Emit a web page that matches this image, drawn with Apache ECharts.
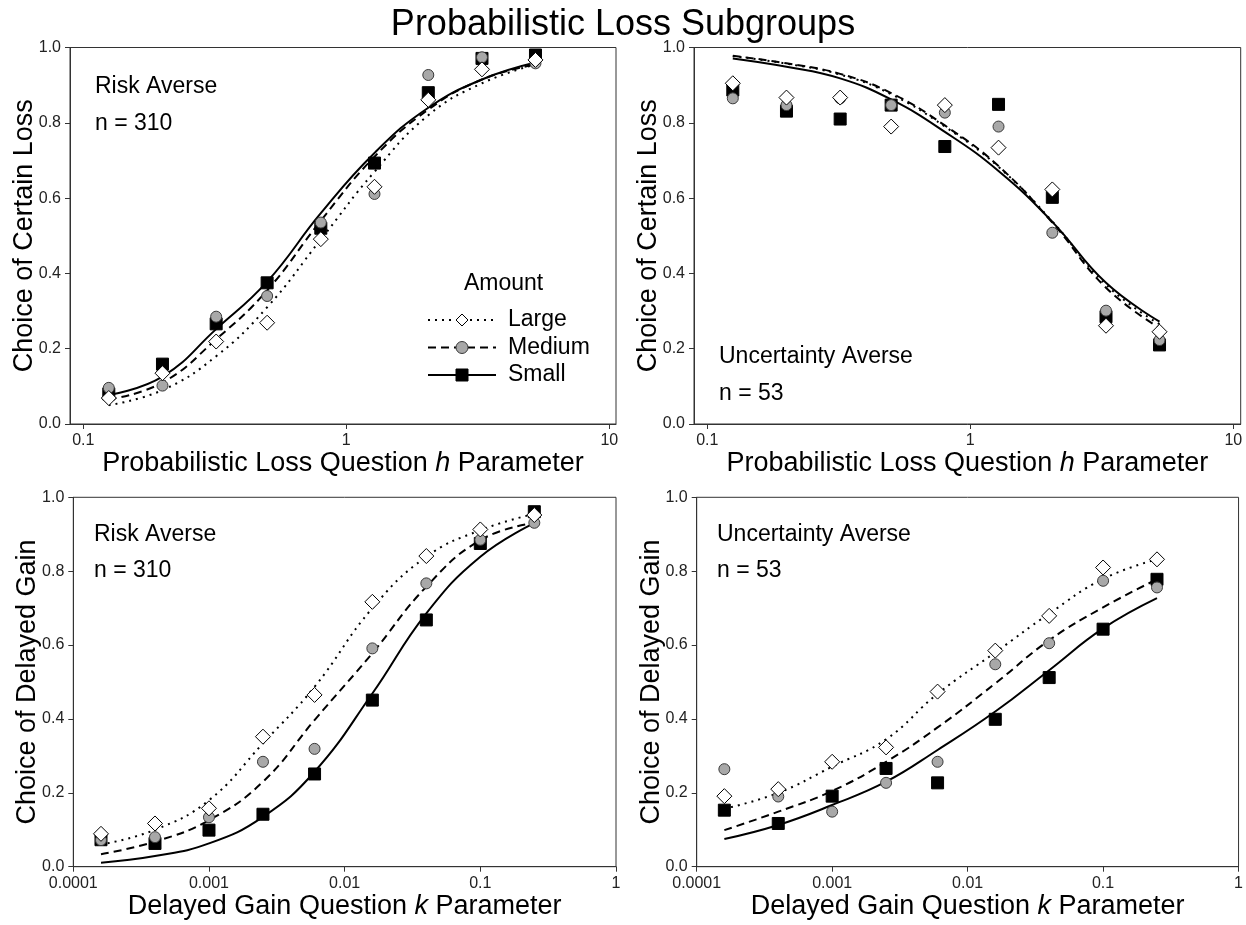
<!DOCTYPE html>
<html>
<head>
<meta charset="utf-8">
<title>Probabilistic Loss Subgroups</title>
<script src="https://cdn.jsdelivr.net/npm/echarts@6/dist/echarts.min.js"></script>
<style>
  html, body { margin: 0; padding: 0; background: #fff; }
  #chart { width: 1246px; height: 925px; }
</style>
</head>
<body>
<div id="chart"></div>
<script>
// Question parameters (x positions of the choice points)
const hValues = [0.125, 0.2, 0.32, 0.5, 0.8, 1.28, 2.05, 3.28, 5.24];
const kValues = [0.00016, 0.0004, 0.001, 0.0025, 0.006, 0.016, 0.04, 0.1, 0.25];

// Tick labels
const hTicks = [0.1, 1, 10];
const kTicks = [0.0001, 0.001, 0.01, 0.1, 1];
const yTicks = [0, 0.2, 0.4, 0.6, 0.8, 1.0];

const amounts = ['Large', 'Medium', 'Small'];

// Risk averse, probabilistic loss: observed proportions
const raLossLarge  = [0.069, 0.135, 0.219, 0.269, 0.491, 0.630, 0.861, 0.942, 0.967];
const raLossMedium = [0.096, 0.102, 0.285, 0.340, 0.535, 0.611, 0.927, 0.974, 0.958];
const raLossSmall  = [0.080, 0.159, 0.266, 0.375, 0.520, 0.693, 0.880, 0.971, 0.980];
// Risk averse, probabilistic loss: fitted curves
const raLossLargeFit  = [0.050, 0.090, 0.180, 0.310, 0.490, 0.670, 0.820, 0.905, 0.955];
const raLossMediumFit = [0.065, 0.110, 0.225, 0.355, 0.540, 0.710, 0.835, 0.915, 0.955];
const raLossSmallFit  = [0.077, 0.126, 0.252, 0.378, 0.560, 0.720, 0.840, 0.915, 0.960];

// Uncertainty averse, probabilistic loss: observed proportions
const uaLossLarge  = [0.905, 0.867, 0.867, 0.790, 0.847, 0.734, 0.623, 0.261, 0.245];
const uaLossMedium = [0.865, 0.847, 0.865, 0.847, 0.827, 0.790, 0.508, 0.301, 0.223];
const uaLossSmall  = [0.887, 0.831, 0.810, 0.847, 0.737, 0.849, 0.602, 0.285, 0.210];
// Uncertainty averse, probabilistic loss: fitted curves
const uaLossLargeFit  = [0.977, 0.957, 0.928, 0.876, 0.790, 0.683, 0.538, 0.370, 0.265];
const uaLossMediumFit = [0.978, 0.958, 0.930, 0.879, 0.793, 0.685, 0.535, 0.362, 0.255];
const uaLossSmallFit  = [0.971, 0.949, 0.918, 0.862, 0.776, 0.672, 0.537, 0.375, 0.272];

// Risk averse, delayed gain: observed proportions
const raGainLarge  = [0.089, 0.117, 0.158, 0.352, 0.465, 0.717, 0.841, 0.913, 0.952];
const raGainMedium = [0.072, 0.080, 0.134, 0.284, 0.319, 0.591, 0.767, 0.885, 0.931];
const raGainSmall  = [0.073, 0.063, 0.099, 0.142, 0.251, 0.451, 0.668, 0.875, 0.961];
// Risk averse, delayed gain: fitted curves
const raGainLargeFit  = [0.060, 0.100, 0.180, 0.334, 0.487, 0.700, 0.839, 0.911, 0.955];
const raGainMediumFit = [0.034, 0.068, 0.126, 0.230, 0.397, 0.578, 0.758, 0.884, 0.931];
const raGainSmallFit  = [0.011, 0.029, 0.063, 0.135, 0.257, 0.469, 0.686, 0.839, 0.930];

// Uncertainty averse, delayed gain: observed proportions
const uaGainLarge  = [0.191, 0.210, 0.284, 0.323, 0.474, 0.585, 0.679, 0.810, 0.832];
const uaGainMedium = [0.264, 0.190, 0.149, 0.227, 0.284, 0.548, 0.605, 0.774, 0.756];
const uaGainSmall  = [0.153, 0.117, 0.191, 0.266, 0.227, 0.399, 0.512, 0.643, 0.778];
// Uncertainty averse, delayed gain: fitted curves
const uaGainLargeFit  = [0.157, 0.200, 0.271, 0.345, 0.468, 0.580, 0.685, 0.779, 0.832];
const uaGainMediumFit = [0.099, 0.149, 0.205, 0.284, 0.377, 0.496, 0.613, 0.702, 0.778];
const uaGainSmallFit  = [0.075, 0.113, 0.167, 0.230, 0.316, 0.420, 0.532, 0.645, 0.727];

const FONT = '"Liberation Sans", Arial, sans-serif';

// Marker and line look per amount
const styles = {
  Large:  { symbol: 'diamond', size: [15, 15], fill: '#ffffff', stroke: '#000000', dash: [2, 5] },
  Medium: { symbol: 'circle',  size: 11,       fill: '#a8a8a8', stroke: '#3a3a3a', dash: [8, 5] },
  Small:  { symbol: 'rect',    size: 12,       fill: '#000000', stroke: '#000000', dash: 'solid' }
};

const panels = [
  { xs: hValues, obs: [raLossLarge, raLossMedium, raLossSmall], fit: [raLossLargeFit, raLossMediumFit, raLossSmallFit] },
  { xs: hValues, obs: [uaLossLarge, uaLossMedium, uaLossSmall], fit: [uaLossLargeFit, uaLossMediumFit, uaLossSmallFit] },
  { xs: kValues, obs: [raGainLarge, raGainMedium, raGainSmall], fit: [raGainLargeFit, raGainMediumFit, raGainSmallFit] },
  { xs: kValues, obs: [uaGainLarge, uaGainMedium, uaGainSmall], fit: [uaGainLargeFit, uaGainMediumFit, uaGainSmallFit] }
];

const grids = [
  { left: 70,    top: 47.5,  width: 546,   height: 376.5 },
  { left: 694,   top: 47.5,  width: 546.7, height: 376.5 },
  { left: 73.3,  top: 497.3, width: 542.7, height: 369.4 },
  { left: 696.7, top: 497.3, width: 542.6, height: 369.4 }
].map(g => Object.assign({ show: true, borderColor: '#333', borderWidth: 1, containLabel: false }, g));

const tickLabelStyle = { fontSize: 16, fontFamily: FONT, color: '#222', margin: 9 };
const axisLineStyle = { show: true, onZero: false, lineStyle: { color: '#333', width: 1 } };
const axisTickStyle = { show: true, inside: false, length: 5, lineStyle: { color: '#333' } };

const nameStyle = {
  fontSize: 27, fontFamily: FONT, color: '#000',
  rich: { i: { fontSize: 27, fontFamily: FONT, fontStyle: 'italic', color: '#000' } }
};

const log10 = v => Math.log10(v);
const fmtPow = v => String(+Math.pow(10, v).toPrecision(1));

const xAxes = [0, 1, 2, 3].map(i => {
  const isLoss = i < 2;
  const base = {
    type: 'value', gridIndex: i,
    nameLocation: 'middle', nameGap: 26, nameTextStyle: nameStyle,
    name: isLoss ? 'Probabilistic Loss Question {i|h} Parameter' : 'Delayed Gain Question {i|k} Parameter',
    axisLine: axisLineStyle, axisTick: axisTickStyle, splitLine: { show: false },
    axisLabel: Object.assign({ formatter: fmtPow }, tickLabelStyle)
  };
  if (isLoss) {
    const logTicks = hTicks.map(log10);
    base.min = -1.0506;
    base.max = i === 0 ? 1.0255 : 1.028;
    base.axisLabel.customValues = logTicks;
    base.axisTick = Object.assign({ customValues: logTicks }, axisTickStyle);
  } else {
    base.min = log10(kTicks[0]);
    base.max = log10(kTicks[kTicks.length - 1]);
    base.interval = 1;
  }
  return base;
});

const yAxes = [0, 1, 2, 3].map(i => ({
  type: 'value', gridIndex: i, min: yTicks[0], max: yTicks[yTicks.length - 1], interval: 0.2,
  name: i < 2 ? 'Choice of Certain Loss' : 'Choice of Delayed Gain',
  nameLocation: 'middle', nameGap: 32, nameMoveOverlap: false, nameTextStyle: nameStyle,
  axisLine: axisLineStyle, axisTick: axisTickStyle, splitLine: { show: false },
  axisLabel: Object.assign({ formatter: v => v.toFixed(1) }, tickLabelStyle)
}));

const series = [];
// Fitted curves first, so the legend takes its icons (line + marker) from them
panels.forEach((p, gi) => {
  amounts.forEach((name, ai) => {
    const st = styles[name];
    series.push({
      type: 'line', name, xAxisIndex: gi, yAxisIndex: gi,
      data: p.xs.map((x, j) => [log10(x), p.fit[ai][j]]),
      smooth: 0.45, showSymbol: false, symbol: st.symbol, silent: true,
      itemStyle: { color: st.fill, borderColor: st.stroke, borderWidth: 1 },
      lineStyle: { color: '#000', width: 2, type: st.dash },
      z: 2
    });
  });
});
// Observed proportions; diamonds sit on top
panels.forEach((p, gi) => {
  ['Small', 'Medium', 'Large'].forEach(name => {
    const st = styles[name];
    const ai = amounts.indexOf(name);
    series.push({
      type: 'scatter', name, xAxisIndex: gi, yAxisIndex: gi,
      data: p.xs.map((x, j) => [log10(x), p.obs[ai][j]]),
      symbol: st.symbol, symbolSize: st.size, silent: true,
      itemStyle: { color: st.fill, borderColor: st.stroke, borderWidth: 1, opacity: 1 },
      z: 3 + (2 - ai)
    });
  });
});

const label = (x, y, text) => ({
  type: 'text', left: x, top: y,
  style: { text, fontSize: 23, fontFamily: FONT, fill: '#000' }, z: 10
});

const chart = echarts.init(document.getElementById('chart'), null, { renderer: 'canvas' });
chart.setOption({
  backgroundColor: '#ffffff',
  animation: false,
  title: {
    text: 'Probabilistic Loss Subgroups', left: 'center', top: 2,
    textStyle: { fontSize: 36, fontWeight: 'normal', fontFamily: FONT, color: '#000' }
  },
  grid: grids,
  xAxis: xAxes,
  yAxis: yAxes,
  legend: {
    orient: 'vertical', left: 422, top: 303,
    itemWidth: 68, itemHeight: 15, itemGap: 3.5,
    selectedMode: false,
    textStyle: { fontSize: 23, fontFamily: FONT, color: '#000', lineHeight: 24, padding: [0, 0, 0, 7] },
    data: amounts.map(name => ({
      name,
      itemStyle: { color: styles[name].fill, borderColor: styles[name].stroke, borderWidth: 1 },
      lineStyle: { color: '#000', width: 2, type: styles[name].dash }
    }))
  },
  graphic: [
    label(464, 272, 'Amount'),
    label(95, 75, 'Risk Averse'),
    label(95, 112, 'n = 310'),
    label(719, 345, 'Uncertainty Averse'),
    label(719, 382, 'n = 53'),
    label(94, 523, 'Risk Averse'),
    label(94, 559, 'n = 310'),
    label(717, 523, 'Uncertainty Averse'),
    label(717, 559, 'n = 53')
  ],
  series
});
</script>
</body>
</html>
